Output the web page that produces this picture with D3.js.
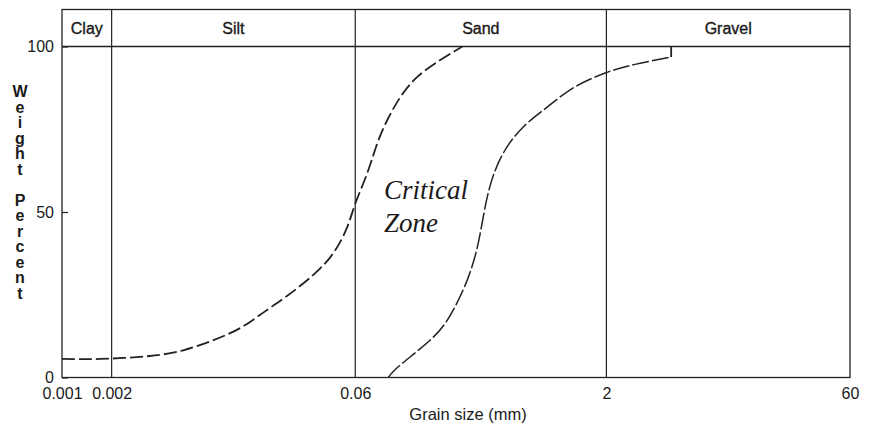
<!DOCTYPE html>
<meta charset="utf-8">
<head>
  <script src="https://d3js.org/d3.v7.min.js"></script>
  <style>
    body { margin: 0; background: #fff; }
    text { font-family: "Liberation Sans", Arial, sans-serif; fill: #1a1a1a; }
  </style>
</head>
<body>
<div id="chart"></div>
<script>

// size classes and their boundaries (mm)
var classNames = ["Clay", "Silt", "Sand", "Gravel"];
var classBounds = [0.001, 0.002, 0.06, 2, 60];
var xTickLabels = ["0.001", "0.002", "0.06", "2", "60"];
var yTicks = [0, 50, 100];

// fine limit curve (grain size mm, weight percent)
var fineSize = [0.001, 0.0017, 0.0034, 0.0055, 0.0083, 0.0121, 0.0166, 0.0231, 0.0334, 0.0442, 0.0537, 0.0600, 0.0710, 0.0817, 0.0939, 0.1126, 0.1427, 0.1967, 0.2675];
var finePct  = [5.6, 5.6, 6.5, 8.3, 11.3, 15.0, 19.6, 24.6, 31.0, 37.6, 45.5, 52.5, 61.8, 70.8, 77.8, 84.7, 90.8, 95.9, 100];

// coarse limit curve
var coarseSize = [0.0953, 0.1126, 0.1785, 0.2359, 0.2869, 0.330, 0.362, 0.399, 0.474, 0.6266, 0.876, 1.259, 1.968, 2.98, 4.94];
var coarsePct  = [0, 3.8, 12.2, 20.4, 29.5, 39.4, 49.7, 58.8, 67.8, 75.7, 81.7, 87.5, 92.0, 94.6, 96.8];
var coarseStepTo = 100;

var W = 869, H = 426;
var plotL = 62, plotR = 850, plotT = 9.5, plotB = 377.5;

var svg = d3.select("#chart").append("svg")
  .attr("width", W)
  .attr("height", H);

var x = d3.scaleLog()
  .domain([0.001, 60])
  .range([plotL, plotR]);

var y = d3.scaleLinear()
  .domain([0, 100])
  .range([plotB, 46.5]);

var ink = "#222";

// frame + header row
svg.append("rect")
  .attr("x", plotL).attr("y", plotT)
  .attr("width", plotR - plotL).attr("height", plotB - plotT)
  .attr("fill", "none").attr("stroke", ink).attr("stroke-width", 1.3);

svg.append("line")
  .attr("x1", plotL).attr("x2", plotR)
  .attr("y1", y(100)).attr("y2", y(100))
  .attr("stroke", ink).attr("stroke-width", 1.3);

// class boundary lines
svg.selectAll(".bound")
  .data(classBounds.slice(1, -1))
  .enter().append("line")
    .attr("x1", function(d) { return x(d); })
    .attr("x2", function(d) { return x(d); })
    .attr("y1", plotT).attr("y2", plotB)
    .attr("stroke", ink).attr("stroke-width", 1.2);

// class names in the header
svg.selectAll(".cls")
  .data(classNames)
  .enter().append("text")
    .attr("x", function(d, i) { return (x(classBounds[i]) + x(classBounds[i + 1])) / 2; })
    .attr("y", 34)
    .attr("text-anchor", "middle")
    .style("font-size", "16px")
    .style("stroke", "#1a1a1a")
    .style("stroke-width", 0.35)
    .text(function(d) { return d; });

// y axis (ticks point inward)
var yAxis = svg.append("g")
  .attr("transform", "translate(" + plotL + ",0)")
  .call(d3.axisLeft(y).tickValues(yTicks).tickSizeInner(-6).tickSizeOuter(0).tickPadding(8));
yAxis.select(".domain").remove();
yAxis.selectAll("line").attr("stroke", ink).attr("stroke-width", 1.2);
yAxis.selectAll("text").style("font-size", "16px").attr("fill", "#1a1a1a")
  .style("font-family", "Liberation Sans, Arial, sans-serif");

// x axis
var xAxis = svg.append("g")
  .attr("transform", "translate(0," + plotB + ")")
  .call(d3.axisBottom(x).tickValues(classBounds).tickSize(0).tickPadding(10)
    .tickFormat(function(d, i) { return xTickLabels[i]; }));
xAxis.select(".domain").remove();
xAxis.selectAll("text").style("font-size", "16px").attr("fill", "#1a1a1a")
  .style("font-family", "Liberation Sans, Arial, sans-serif");

// axis titles
svg.append("text")
  .attr("x", 468).attr("y", 420)
  .attr("text-anchor", "middle")
  .style("font-size", "16.5px")
  .text("Grain size (mm)");

var yLetters = "Weight Percent".split("");
svg.append("text")
  .attr("text-anchor", "middle")
  .style("font-size", "16px")
  .style("font-weight", "bold")
  .selectAll("tspan")
  .data(yLetters)
  .enter().append("tspan")
    .attr("x", 20)
    .attr("y", function(d, i) { return 97 + i * 15.5; })
    .text(function(d) { return d; });

// curves
var fine = fineSize.map(function(d, i) { return [d, finePct[i]]; });
var coarse = coarseSize.map(function(d, i) { return [d, coarsePct[i]]; });

var curve = d3.line()
  .x(function(d) { return x(d[0]); })
  .y(function(d) { return y(d[1]); })
  .curve(d3.curveNatural);

svg.append("path")
  .attr("d", curve(fine))
  .attr("fill", "none")
  .attr("stroke", ink)
  .attr("stroke-width", 1.8)
  .attr("stroke-dasharray", "13,4");

svg.append("path")
  .attr("d", curve(coarse))
  .attr("fill", "none")
  .attr("stroke", ink)
  .attr("stroke-width", 1.5)
  .attr("stroke-dasharray", "17,3");

var last = coarse[coarse.length - 1];
svg.append("path")
  .attr("d", d3.line().x(function(d) { return x(d[0]); }).y(function(d) { return y(d[1]); })([last, [last[0], coarseStepTo]]))
  .attr("fill", "none")
  .attr("stroke", ink)
  .attr("stroke-width", 1.8);

// zone label
var zone = svg.append("text")
  .style("font-family", "Liberation Serif, 'Times New Roman', serif")
  .style("font-style", "italic")
  .style("font-size", "27px")
  .attr("fill", "#111");
zone.append("tspan").attr("x", 384).attr("y", 199).text("Critical");
zone.append("tspan").attr("x", 384).attr("y", 232).text("Zone");

</script>
</body>
